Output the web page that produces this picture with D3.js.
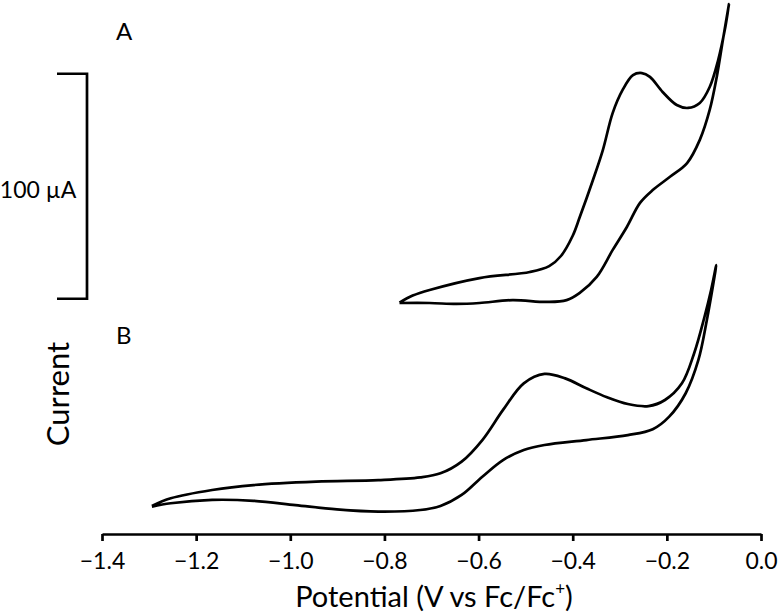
<!DOCTYPE html>
<html>
<head>
<meta charset="utf-8">
<script src="https://cdn.jsdelivr.net/npm/d3@7"></script>
<style>
  html, body { margin: 0; padding: 0; background: #fff; }
  svg { display: block; }
  text { font-family: Lato, "Open Sans", sans-serif; fill: #000; }
</style>
</head>
<body>
<svg id="chart" width="780" height="616"></svg>
<script>
// ---- Data (potential in V vs Fc/Fc+, current in µA, traces offset vertically) ----
const xTicks = [-1.4, -1.2, -1.0, -0.8, -0.6, -0.4, -0.2, 0.0];

// Trace A: forward (anodic) branch then return branch
const traceA_potential_fwd = [-0.768,-0.740,-0.704,-0.598,-0.491,-0.450,-0.425,-0.400,-0.385,-0.357,-0.336,-0.315,-0.294,-0.272,-0.253,-0.236,-0.209,-0.179,-0.155,-0.130,-0.109,-0.091,-0.077,-0.068];
const traceA_current_fwd   = [103.3,106.4,108.9,114.2,116.9,119.5,124.0,133.0,141.3,157.8,171.1,187.6,197.8,204.4,205.3,203.6,196.9,191.1,189.8,192.0,199.1,211.1,224.4,236.0];
const traceA_potential_rev = [-0.068,-0.081,-0.094,-0.109,-0.130,-0.157,-0.194,-0.230,-0.257,-0.285,-0.315,-0.349,-0.385,-0.413,-0.455,-0.528,-0.598,-0.647,-0.704,-0.768];
const traceA_current_rev   = [236.0,220.0,203.6,188.9,175.6,165.3,159.1,153.3,147.6,136.9,126.7,114.7,107.6,104.4,103.6,104.4,103.1,102.7,103.1,103.1];

// Trace B
const traceB_potential_fwd = [-1.294,-1.254,-1.166,-1.078,-0.945,-0.813,-0.724,-0.681,-0.636,-0.592,-0.548,-0.504,-0.460,-0.416,-0.371,-0.327,-0.283,-0.239,-0.204,-0.168,-0.142,-0.120,-0.106,-0.095];
const traceB_current_fwd   = [12.9,16.3,20.0,22.2,23.7,24.4,25.6,27.4,32.6,42.2,55.6,67.4,71.6,69.6,65.2,61.2,58.2,57.3,60.0,67.4,80.8,97.0,108.9,120.0];
const traceB_potential_rev = [-0.095,-0.115,-0.133,-0.160,-0.195,-0.230,-0.283,-0.371,-0.460,-0.504,-0.548,-0.592,-0.636,-0.681,-0.724,-0.813,-0.901,-0.989,-1.078,-1.166,-1.254,-1.294];
const traceB_current_rev   = [120.0,95.6,77.8,63.0,52.6,47.0,44.4,42.2,40.0,37.8,33.3,25.9,17.8,12.9,11.1,10.4,11.4,13.3,15.2,15.6,14.1,12.6];

const scaleBarBase = 105;   // µA
const scaleBarSize = 100;   // µA
const scaleBarLabel = "100 µA";
const xTitle = "Potential (V vs Fc/Fc";
const yTitle = "Current";
const panelLabels = ["A", "B"];

// ---- Drawing ----
const svg = d3.select("#chart");
const x = d3.scaleLinear().domain([-1.4, 0]).range([102, 761]);
const y = d3.scaleLinear().domain([0, 240]).range([535, -5]);

function pts(p1, c1, p2, c2) {
  const a = p1.map((v, i) => [v, c1[i]]);
  const b = p2.map((v, i) => [v, c2[i]]);
  return a.concat(b.slice(1));
}
const line = d3.line().x(d => x(d[0])).y(d => y(d[1])).curve(d3.curveCatmullRom.alpha(0.5));

svg.append("path")
  .attr("d", line(pts(traceA_potential_fwd, traceA_current_fwd, traceA_potential_rev, traceA_current_rev)))
  .attr("fill", "none").attr("stroke", "#000").attr("stroke-width", 2.7).attr("stroke-linejoin", "round");
svg.append("path")
  .attr("d", line(pts(traceB_potential_fwd, traceB_current_fwd, traceB_potential_rev, traceB_current_rev)))
  .attr("fill", "none").attr("stroke", "#000").attr("stroke-width", 2.7).attr("stroke-linejoin", "round");

// x axis
const xAxis = d3.axisBottom(x).tickValues(xTicks).tickFormat(d3.format(".1f")).tickSize(7).tickSizeOuter(0).tickPadding(12);
const gx = svg.append("g").attr("transform", "translate(0,534)").call(xAxis);
gx.select(".domain").attr("stroke", "#000").attr("stroke-width", 2.7);
gx.selectAll(".tick line").attr("stroke", "#000").attr("stroke-width", 2.7);
gx.selectAll(".tick text").attr("font-size", 23).attr("font-family", "Lato, 'Open Sans', sans-serif").attr("fill", "#000");

// x title
const xt = svg.append("text").attr("x", 434).attr("y", 607).attr("text-anchor", "middle").attr("font-size", 29);
xt.append("tspan").text(xTitle);
xt.append("tspan").attr("font-size", 17).attr("dy", -12).text("+");
xt.append("tspan").attr("dy", 12).text(")");

// y title
svg.append("text").attr("transform", "translate(69,394) rotate(-90)").attr("text-anchor", "middle").attr("font-size", 31).text(yTitle);

// scale bar
const sbx = 87;
svg.append("path")
  .attr("d", `M${sbx - 30},${y(scaleBarBase + scaleBarSize)} H${sbx} V${y(scaleBarBase)} H${sbx - 30}`)
  .attr("fill", "none").attr("stroke", "#000").attr("stroke-width", 2.7);
svg.append("text").attr("x", 38).attr("y", 198).attr("text-anchor", "middle").attr("font-size", 23).text(scaleBarLabel);

// panel labels
svg.append("text").attr("x", 116).attr("y", 40).attr("font-size", 24).text(panelLabels[0]);
svg.append("text").attr("x", 116).attr("y", 344).attr("font-size", 24).text(panelLabels[1]);
</script>
</body>
</html>
